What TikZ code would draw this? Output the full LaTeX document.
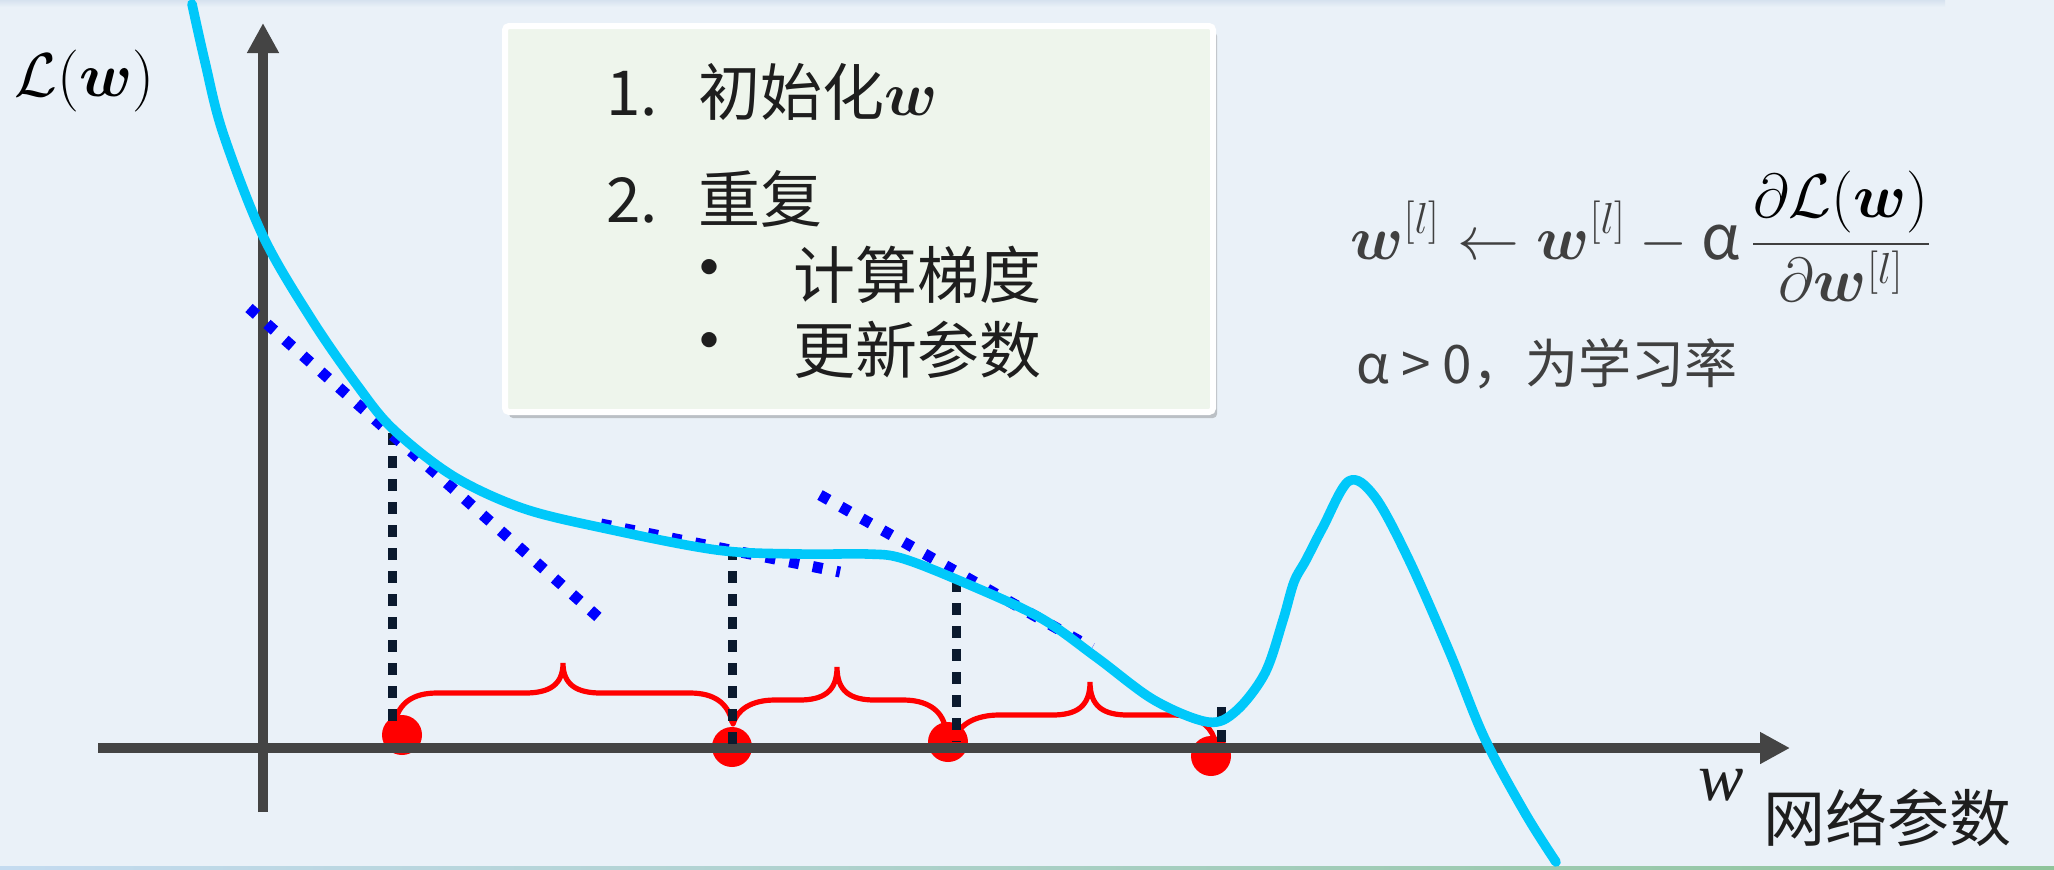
\RequirePackage{fix-cm}
\documentclass[tikz,border=0pt]{standalone}
\usepackage{amsmath}
\usepackage{fontspec}
\newfontfamily\cjk{Noto Sans CJK SC}
\newfontfamily\timesf{Liberation Serif}
\usetikzlibrary{arrows.meta,shadows}
\definecolor{bg}{HTML}{EAF1F8}
\definecolor{topband}{HTML}{D6E2EF}
\definecolor{botL}{HTML}{C4DBF0}
\definecolor{botR}{HTML}{8EC49A}
\definecolor{boxfill}{HTML}{EEF5EC}
\definecolor{axisgray}{HTML}{444444}
\definecolor{txtgray}{HTML}{404040}
\definecolor{txtdark}{HTML}{1E1E1E}
\definecolor{guidecol}{HTML}{0B1A2E}
\definecolor{curvecol}{HTML}{00C8FA}
\definecolor{tangcol}{HTML}{0000FF}
\definecolor{redcol}{HTML}{FF0000}
\newcommand\setfs[1]{\fontsize{#1}{#1}\selectfont}
% brace: start x,y ; tip x,y ; end x,y ; horizontal y
\newcommand\redbrace[7]{%
  \draw[bracestyle] (#1,#2) .. controls ({#1+4},{#7+10}) and ({#1+18},#7) .. ({#1+42},#7)
    -- ({#3-38},#7) .. controls ({#3-14},#7) and (#3,{#7-8}) .. (#3,#4)
    .. controls (#3,{#7-8}) and ({#3+14},#7) .. ({#3+38},#7)
    -- ({#5-42},#7) .. controls ({#5-18},#7) and ({#5-4},{#7+10}) .. (#5,#6);}
\begin{document}
\begin{tikzpicture}[x=0.5pt,y=-0.5pt,
  axis/.style={draw=axisgray, line width=5pt, -{Triangle[length=15pt,width=15pt]}},
  guide/.style={draw=guidecol, line width=4.5pt, dash pattern=on 6pt off 5.5pt},
  tangent/.style={draw=tangcol, line width=5.5pt, dash pattern=on 5pt off 7pt},
  curve/.style={draw=curvecol, line width=4.8pt, line cap=round, line join=round},
  bracestyle/.style={draw=redcol, line width=2.6pt, line cap=round},
  dot/.style={circle, fill=redcol, minimum size=20pt, inner sep=0pt},
  infobox/.style={fill=boxfill, draw=white, line width=3pt, rounded corners=2pt,
     inner sep=0pt, drop shadow={shadow xshift=2pt, shadow yshift=-3pt, opacity=0.35, fill=black!60}},
  boxtxt/.style={inner sep=0pt, text=txtdark, font=\cjk\setfs{31pt}},
  bullet/.style={inner sep=0pt, text=txtdark, font=\cjk\setfs{36pt}},
  formula/.style={inner sep=0pt, text=txtgray, font=\setfs{31pt}},
  note/.style={inner sep=0pt, text=txtgray, font=\cjk\setfs{26.5pt}}]
\useasboundingbox (0,0) rectangle (2054,869);
\fill[bg] (0,0) rectangle (2054,869);
\shade[top color=topband, bottom color=bg] (0,0) rectangle (1945,7);
\shade[left color=botL, right color=botR] (0,866) rectangle (2054,869);

% info box
\node[infobox, minimum width=354pt, minimum height=193pt] (box) at (859,219) {};
\node[boxtxt, anchor=base west] (n1) at (606,115) {1.};
\node[boxtxt, anchor=base west] (t1) at (698,115) {初始化$\boldsymbol{w}$};
\node[boxtxt, anchor=base west] (n2) at (606,222) {2.};
\node[boxtxt, anchor=base west] (t2) at (698,222) {重复};
\node[bullet, anchor=center] (b1) at (709,277) {•};
\node[boxtxt, anchor=base west] (t3) at (793,298) {计算梯度};
\node[bullet, anchor=center] (b2) at (709,350) {•};
\node[boxtxt, anchor=base west] (t4) at (793,373) {更新参数};

% formula
\node[formula, anchor=base west] (upd) at (1350,259)
  {$\displaystyle \boldsymbol{w}^{[l]} \leftarrow \boldsymbol{w}^{[l]} - \text{\cjk α}\,\frac{\color{black}\partial\mathcal{L}(\boldsymbol{w})}{\partial \boldsymbol{w}^{[l]}}$};
\node[note, anchor=base west] (lr) at (1356,383) {α > 0，为学习率};

% axis labels
\node[inner sep=0pt, anchor=base west, font=\setfs{31pt}] (ylab) at (14,96) {$\mathcal{L}(\boldsymbol{w})$};
\node[inner sep=0pt, anchor=base west, text=txtdark, font=\timesf\itshape\setfs{34pt}] (xlab) at (1698,800) {w};
\node[inner sep=0pt, anchor=base west, text=txtdark, font=\cjk\setfs{31pt}] (xname) at (1763,841) {网络参数};

% red dots
\node[dot] (d1) at (402,735) {};
\node[dot] (d2) at (732,747) {};
\node[dot] (d3) at (948,742) {};
\node[dot] (d4) at (1211,756) {};

% braces
\redbrace{395}{722}{563}{663}{732}{722}{693}
\redbrace{733}{724}{837}{667}{945}{726}{700}
\redbrace{957}{734}{1090}{682}{1214}{738}{715}

% axes
\coordinate (ybot) at (263,812);
\coordinate (ytop) at (263,23);
\coordinate (xleft) at (98,748);
\coordinate (xright) at (1790,748);
\draw[axis] (ybot) -- (ytop);
\draw[axis] (xleft) -- (xright);

% guides
\coordinate (g1) at (392,433);
\coordinate (g2) at (732,548);
\coordinate (g3) at (956,580);
\coordinate (g4) at (1221,707);
\draw[guide] (g1) -- (g1 |- 0,725);
\draw[guide] (g2) -- (g2 |- d2);
\draw[guide] (g3) -- (g3 |- d3);
\draw[guide] (g4) -- (g4 |- 0,748);

% tangents
\coordinate (ta1) at (249,308); \coordinate (tb1) at (598,617);
\coordinate (ta2) at (601,524); \coordinate (tb2) at (840,572);
\coordinate (ta3) at (820,495); \coordinate (tb3) at (1092,648);
\draw[tangent] (ta1) -- (tb1);
\draw[tangent] (ta2) -- (tb2);
\draw[tangent] (ta3) -- (tb3);

% loss curve
\draw[curve] plot[smooth, tension=0.55] coordinates {
 (192,4) (205,62) (223,133) (263,236) (312,320) (357,385) (393,429) (453,476)
 (522,508) (603,528) (717,550) (800,554) (867,554) (901,558) (958,580)
 (1039,617) (1096,657) (1154,700) (1208,722) (1236,711) (1265,673)
 (1283,620) (1294,582) (1306,560) (1323,527) (1349,481) (1375,497)
 (1409,560) (1450,653) (1484,737) (1525,813) (1556,862)};
\end{tikzpicture}
\end{document}
